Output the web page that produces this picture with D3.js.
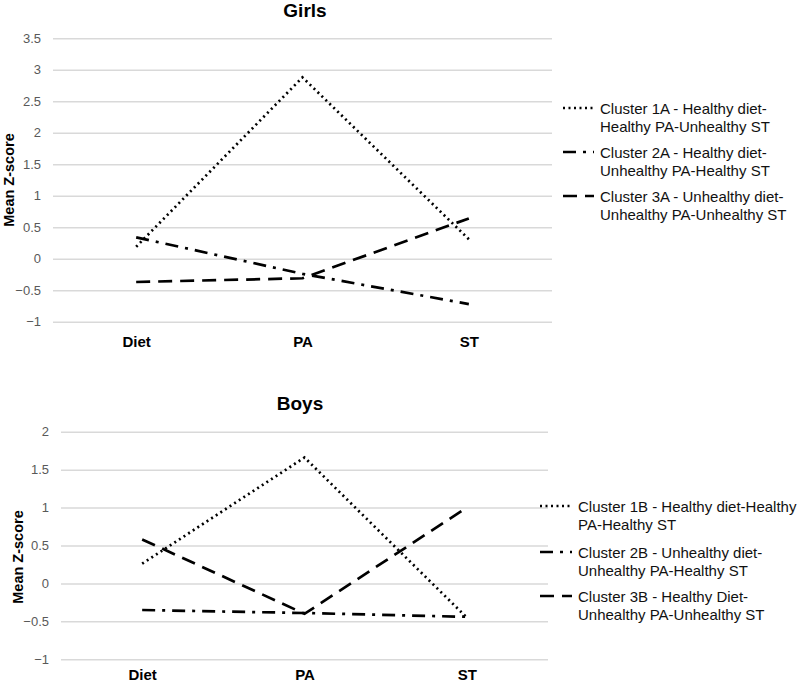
<!DOCTYPE html>
<html><head><meta charset="utf-8">
<script src="https://cdn.jsdelivr.net/npm/d3@7"></script>
<style>body{margin:0;background:#fff}text{font-family:"Liberation Sans",Arial,sans-serif}</style>
</head><body><svg id="c" width="800" height="683"></svg>
<script>
const categories = ["Diet", "PA", "ST"];
const girlsSeries = ["Cluster 1A - Healthy diet-|Healthy PA-Unhealthy ST", "Cluster 2A - Healthy diet-|Unhealthy PA-Healthy ST", "Cluster 3A - Unhealthy diet-|Unhealthy PA-Unhealthy ST"];
const girls1A = [0.19, 2.88, 0.31];
const girls2A = [0.34, -0.24, -0.72];
const girls3A = [-0.37, -0.31, 0.64];
const girlsTicks = [-1, -0.5, 0, 0.5, 1, 1.5, 2, 2.5, 3, 3.5];
const boysSeries = ["Cluster 1B - Healthy diet-Healthy|PA-Healthy ST", "Cluster 2B - Unhealthy diet-|Unhealthy PA-Healthy ST", "Cluster 3B - Healthy Diet-|Unhealthy PA-Unhealthy ST"];
const boys1B = [0.26, 1.66, -0.45];
const boys2B = [-0.35, -0.39, -0.44];
const boys3B = [0.58, -0.40, 1.0];
const boysTicks = [-1, -0.5, 0, 0.5, 1, 1.5, 2];

const dashes = ["2,3.5", "13,7,3,7", "14,8"];
const svg = d3.select("#c");

function panel(cfg) {
  const g = svg.append("g");
  const y = d3.scaleLinear().domain(cfg.domain).range(cfg.yRange);
  const x = d3.scalePoint().domain(categories).range(cfg.gridX).padding(0.5);
  const ax = d3.axisLeft(y).tickValues(cfg.ticks).tickSize(-(cfg.gridX[1]-cfg.gridX[0])).tickPadding(cfg.gridX[0]-cfg.tickRight).tickFormat(d3.format("~g"));
  const ag = g.append("g").attr("transform", `translate(${cfg.gridX[0]},0)`).call(ax);
  ag.select(".domain").remove();
  ag.selectAll(".tick line").attr("stroke", "#d9d9d9").attr("stroke-width", 1.5);
  ag.selectAll(".tick text").attr("fill", "#595959").style("font-size", "13px");
  const xa = d3.axisBottom(x).tickSize(0).tickPadding(0);
  const xg = g.append("g").attr("transform", `translate(0,${cfg.xLabelY})`).call(xa);
  xg.select(".domain").remove();
  xg.selectAll("text").attr("fill", "#000").attr("dy", 0).style("font-size", "15px").style("font-weight", "bold");
  g.append("text").attr("x", cfg.titleX).attr("y", cfg.titleY).attr("text-anchor", "middle")
    .style("font-size", "19px").style("font-weight", "bold").text(cfg.title);
  g.append("text").attr("transform", `translate(${cfg.yTitleX},${cfg.yTitleY}) rotate(-90)`)
    .attr("text-anchor", "middle").style("font-size", "14.5px").style("font-weight", "bold").text("Mean Z-score");
  const line = d3.line().x((d, i) => x(categories[i])).y(d => y(d));
  cfg.data.forEach((vals, k) => {
    g.append("path").datum(vals).attr("d", line).attr("fill", "none").attr("stroke", "#000")
      .attr("stroke-width", 2.7).attr("stroke-dasharray", dashes[k]);
  });
  cfg.names.forEach((nm, k) => {
    const ly = cfg.legY[k];
    g.append("line").attr("x1", cfg.legX[0]).attr("x2", cfg.legX[1]).attr("y1", ly).attr("y2", ly)
      .attr("stroke", "#000").attr("stroke-width", 2.7).attr("stroke-dasharray", dashes[k]);
    const t = g.append("text").attr("x", cfg.legX[2]).attr("y", ly + 6).style("font-size", "15px").attr("fill", "#111");
    nm.split("|").forEach((s, j) => t.append("tspan").attr("x", cfg.legX[2]).attr("dy", j ? 17.5 : 0).text(s));
  });
}

panel({
  domain: [-1, 3.5], yRange: [321.7, 38.3], ticks: girlsTicks,
  gridX: [53, 552], tickRight: 41, xLabelY: 347, title: "Girls", titleX: 305, titleY: 17,
  yTitleX: 13.5, yTitleY: 180, data: [girls1A, girls2A, girls3A], names: girlsSeries,
  legY: [108, 152, 196], legX: [563, 594, 600]
});
panel({
  domain: [-1, 2], yRange: [659.3, 431.7], ticks: boysTicks,
  gridX: [61, 548], tickRight: 49, xLabelY: 680, title: "Boys", titleX: 300, titleY: 410,
  yTitleX: 23, yTitleY: 557, data: [boys1B, boys2B, boys3B], names: boysSeries,
  legY: [506, 552, 596], legX: [540, 572, 578]
});
</script></body></html>
